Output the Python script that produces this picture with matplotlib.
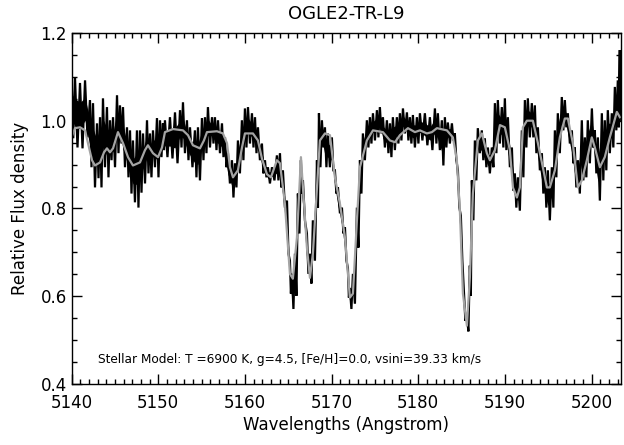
import numpy as np
import matplotlib
matplotlib.use("Agg")
import matplotlib.pyplot as plt
from matplotlib.ticker import MultipleLocator

obs_wl = [5140.00, 5140.40, 5140.98, 5141.56, 5142.13, 5142.48, 5142.94, 5143.29, 5143.63, 5144.09,
          5144.44, 5144.79, 5145.25, 5145.59, 5145.94, 5146.40, 5146.75, 5147.09, 5147.55, 5147.90,
          5148.25, 5148.71, 5149.05, 5149.40, 5149.86, 5150.21, 5150.55, 5150.78, 5151.36, 5151.94,
          5152.52, 5152.86, 5153.32, 5153.67, 5154.24, 5154.59, 5155.05, 5155.40, 5155.74, 5156.21,
          5156.55, 5156.90, 5157.36, 5157.71, 5158.05, 5158.51, 5158.86, 5159.20, 5159.66, 5160.01,
          5160.36, 5160.82, 5161.17, 5161.51, 5161.97, 5162.32, 5162.66, 5163.13, 5163.70, 5164.05,
          5164.39, 5164.86, 5165.20, 5165.43, 5165.78, 5166.12, 5166.47, 5166.70, 5167.16, 5167.51,
          5167.85, 5168.32, 5168.55, 5168.89, 5169.24, 5169.58, 5170.04, 5170.39, 5170.74, 5171.20,
          5171.55, 5171.89, 5172.12, 5172.47, 5172.93, 5173.28, 5173.62, 5174.08, 5174.43, 5174.78,
          5175.24, 5175.58, 5175.93, 5176.39, 5176.74, 5177.08, 5177.54, 5177.89, 5178.24, 5178.70,
          5179.04, 5179.39, 5179.85, 5180.20, 5180.77, 5181.35, 5181.93, 5182.27, 5182.73, 5183.08,
          5183.42, 5183.89, 5184.23, 5184.58, 5184.92, 5185.27, 5185.62, 5185.96, 5186.19, 5186.54,
          5186.88, 5187.34, 5187.69, 5188.04, 5188.50, 5188.85, 5189.19, 5189.65, 5190.00, 5190.35,
          5190.81, 5191.15, 5191.50, 5191.96, 5192.31, 5192.65, 5193.11, 5193.46, 5193.81, 5194.27,
          5194.61, 5194.96, 5195.42, 5195.77, 5196.11, 5196.57, 5196.92, 5197.27, 5197.73, 5198.07,
          5198.42, 5198.88, 5199.23, 5199.57, 5200.04, 5200.38, 5200.73, 5201.19, 5201.53, 5201.88,
          5202.34, 5202.69, 5203.03, 5203.26]
obs_hi = [1.104, 1.099, 1.086, 1.092, 1.047, 1.040, 0.994, 1.008, 1.051, 1.031,
          1.001, 1.008, 1.058, 1.035, 1.031, 0.985, 0.978, 0.955, 0.978, 0.978,
          0.971, 1.001, 0.971, 0.978, 1.006, 1.001, 0.994, 1.001, 1.008, 1.019,
          1.024, 1.042, 1.001, 0.985, 0.978, 0.985, 1.006, 1.008, 1.031, 1.008,
          1.008, 1.001, 0.994, 0.962, 0.926, 0.910, 0.903, 0.955, 1.001, 1.028,
          1.031, 1.017, 1.008, 0.985, 0.948, 0.910, 0.894, 0.894, 0.921, 0.926,
          0.887, 0.818, 0.681, 0.651, 0.697, 0.834, 0.910, 0.864, 0.743, 0.697,
          0.773, 0.910, 1.017, 1.001, 0.985, 0.971, 0.962, 0.887, 0.848, 0.802,
          0.757, 0.665, 0.619, 0.651, 0.802, 0.910, 0.971, 1.001, 1.008, 1.017,
          1.024, 1.031, 1.008, 1.001, 0.994, 1.008, 1.008, 1.017, 1.028, 1.019,
          1.008, 1.013, 1.008, 1.017, 1.017, 1.008, 1.028, 1.017, 1.001, 1.008,
          0.996, 0.994, 0.971, 0.887, 0.784, 0.612, 0.555, 0.670, 0.864, 0.955,
          0.983, 0.978, 0.960, 0.939, 0.939, 1.040, 1.047, 1.031, 1.051, 1.008,
          0.939, 0.880, 0.871, 0.978, 1.047, 1.051, 1.040, 1.035, 0.985, 0.926,
          0.894, 0.887, 0.894, 0.978, 1.017, 1.054, 1.047, 1.017, 0.978, 0.939,
          0.910, 1.001, 0.962, 1.001, 1.028, 0.978, 0.962, 1.017, 1.001, 1.024,
          1.017, 1.077, 1.092, 1.161]
obs_lo = [0.960, 0.939, 0.937, 0.962, 0.894, 0.848, 0.869, 0.848, 0.894, 0.871,
          0.910, 0.894, 0.926, 0.948, 0.894, 0.871, 0.834, 0.814, 0.802, 0.836,
          0.857, 0.880, 0.871, 0.894, 0.871, 0.917, 0.933, 0.917, 0.914, 0.903,
          0.939, 0.926, 0.910, 0.894, 0.871, 0.864, 0.910, 0.926, 0.939, 0.948,
          0.933, 0.926, 0.917, 0.894, 0.857, 0.825, 0.848, 0.880, 0.910, 0.939,
          0.948, 0.939, 0.926, 0.910, 0.880, 0.871, 0.857, 0.864, 0.864, 0.848,
          0.802, 0.697, 0.606, 0.571, 0.601, 0.743, 0.834, 0.773, 0.651, 0.629,
          0.681, 0.802, 0.894, 0.939, 0.894, 0.894, 0.887, 0.834, 0.789, 0.743,
          0.681, 0.597, 0.571, 0.583, 0.711, 0.834, 0.910, 0.939, 0.948, 0.955,
          0.962, 0.971, 0.939, 0.926, 0.917, 0.933, 0.948, 0.955, 0.971, 0.955,
          0.948, 0.939, 0.948, 0.955, 0.944, 0.933, 0.948, 0.933, 0.898, 0.939,
          0.948, 0.955, 0.910, 0.802, 0.681, 0.544, 0.520, 0.601, 0.773, 0.864,
          0.926, 0.910, 0.894, 0.880, 0.894, 0.926, 0.948, 0.939, 0.933, 0.894,
          0.841, 0.802, 0.795, 0.871, 0.939, 0.962, 0.962, 0.926, 0.887, 0.834,
          0.802, 0.773, 0.802, 0.871, 0.926, 0.978, 0.985, 0.948, 0.903, 0.848,
          0.834, 0.864, 0.871, 0.903, 0.939, 0.880, 0.818, 0.864, 0.887, 0.926,
          0.939, 0.978, 0.985, 1.001]

# stellar model (grey curve)
mod_wl = [5140.00, 5140.40, 5140.98, 5141.56, 5141.90, 5142.36, 5142.71, 5143.29, 5143.75, 5144.09,
          5144.44, 5144.79, 5145.36, 5145.94, 5146.52, 5147.09, 5147.90, 5148.48, 5148.82, 5149.40,
          5149.98, 5150.44, 5150.78, 5151.71, 5152.86, 5153.44, 5154.01, 5154.82, 5155.28, 5155.63,
          5156.78, 5157.47, 5157.94, 5158.28, 5158.63, 5159.20, 5159.67, 5160.01, 5160.93, 5161.51,
          5161.97, 5162.55, 5163.01, 5163.70, 5164.05, 5164.62, 5165.20, 5165.54, 5166.01, 5166.47,
          5166.70, 5167.16, 5167.51, 5167.85, 5168.66, 5169.24, 5169.82, 5170.39, 5170.97, 5171.55,
          5172.12, 5172.47, 5172.93, 5173.28, 5174.08, 5174.78, 5175.93, 5176.74, 5177.32, 5177.89,
          5178.82, 5179.62, 5180.20, 5181.00, 5181.58, 5182.16, 5183.31, 5184.00, 5184.46, 5184.81,
          5185.16, 5185.62, 5185.96, 5186.31, 5186.89, 5187.35, 5187.92, 5188.27, 5188.85, 5189.43,
          5190.00, 5190.58, 5190.93, 5191.39, 5191.73, 5192.08, 5192.54, 5193.23, 5193.81, 5194.38,
          5194.85, 5195.19, 5195.77, 5196.34, 5196.92, 5197.27, 5197.84, 5198.42, 5198.88, 5199.46,
          5200.03, 5200.38, 5200.96, 5201.53, 5202.11, 5202.92, 5203.27]
mod_flux = [0.962, 0.983, 0.985, 0.978, 0.949, 0.910, 0.898, 0.905, 0.928, 0.937,
            0.928, 0.937, 0.974, 0.949, 0.917, 0.898, 0.905, 0.933, 0.944, 0.926,
            0.917, 0.939, 0.974, 0.981, 0.978, 0.967, 0.944, 0.937, 0.955, 0.974,
            0.976, 0.971, 0.949, 0.894, 0.871, 0.887, 0.939, 0.971, 0.971, 0.955,
            0.914, 0.878, 0.871, 0.910, 0.903, 0.811, 0.651, 0.640, 0.734, 0.917,
            0.848, 0.711, 0.642, 0.697, 0.955, 0.971, 0.967, 0.871, 0.811, 0.734,
            0.597, 0.606, 0.773, 0.894, 0.955, 0.978, 0.974, 0.955, 0.951, 0.967,
            0.983, 0.974, 0.978, 0.971, 0.974, 0.983, 0.978, 0.962, 0.910, 0.795,
            0.606, 0.533, 0.642, 0.834, 0.955, 0.971, 0.926, 0.910, 0.933, 0.990,
            0.985, 0.933, 0.848, 0.825, 0.848, 0.985, 1.000, 1.000, 0.949, 0.894,
            0.848, 0.848, 0.887, 0.962, 1.005, 1.005, 0.949, 0.848, 0.864, 0.910,
            0.962, 0.939, 0.894, 0.917, 0.962, 1.020, 1.008]

title = "OGLE2-TR-L9"
xlabel = "Wavelengths (Angstrom)"
ylabel = "Relative Flux density"
note = "Stellar Model: T =6900 K, g=4.5, [Fe/H]=0.0, vsini=39.33 km/s"

plt.rcParams['font.family'] = ['DejaVu Sans']

fig = plt.figure(figsize=(6.24, 4.45), dpi=100)
ax = fig.add_axes([0.1146, 0.137, 0.8806, 0.789])

wl = np.array(obs_wl)
hi = np.array(obs_hi)
lo = np.array(obs_lo)
# noisy band: zig-zag between the read upper and lower edges, solid core under it
mid = np.append((wl[:-1] + wl[1:]) / 2, wl[-1])
zig_x = np.column_stack([wl, mid]).ravel()
zig_y = np.column_stack([hi, lo]).ravel()
span = hi - lo

ax.fill_between(wl, lo + 0.3 * span, hi - 0.3 * span, color='black', lw=0)
ax.plot(zig_x, zig_y, color='black', lw=1.6, solid_joinstyle='miter')
ax.plot(mod_wl, mod_flux, color='#a4a4a4', lw=1.6, solid_joinstyle='round')

ax.set_xlim(5140, 5203.4)
ax.set_ylim(0.4, 1.2)
ax.xaxis.set_major_locator(MultipleLocator(10))
ax.xaxis.set_minor_locator(MultipleLocator(1))
ax.yaxis.set_major_locator(MultipleLocator(0.2))
ax.yaxis.set_minor_locator(MultipleLocator(0.05))
ax.yaxis.set_major_formatter(plt.FormatStrFormatter('%.1f'))
ax.tick_params(which='both', direction='in', top=True, right=True, labelsize=12, width=1.0)
ax.tick_params(axis='x', pad=7)
ax.tick_params(which='major', length=7)
ax.tick_params(which='minor', length=3.5)
for s in ax.spines.values():
    s.set_linewidth(1.0)

ax.set_title(title, fontsize=13, pad=10)
ax.set_xlabel(xlabel, fontsize=12, labelpad=3)
ax.set_ylabel(ylabel, fontsize=12, labelpad=8)
ax.text(5143.0, 0.455, note, fontsize=8.7, va='center', ha='left')

fig.savefig("out.png", dpi=100)
